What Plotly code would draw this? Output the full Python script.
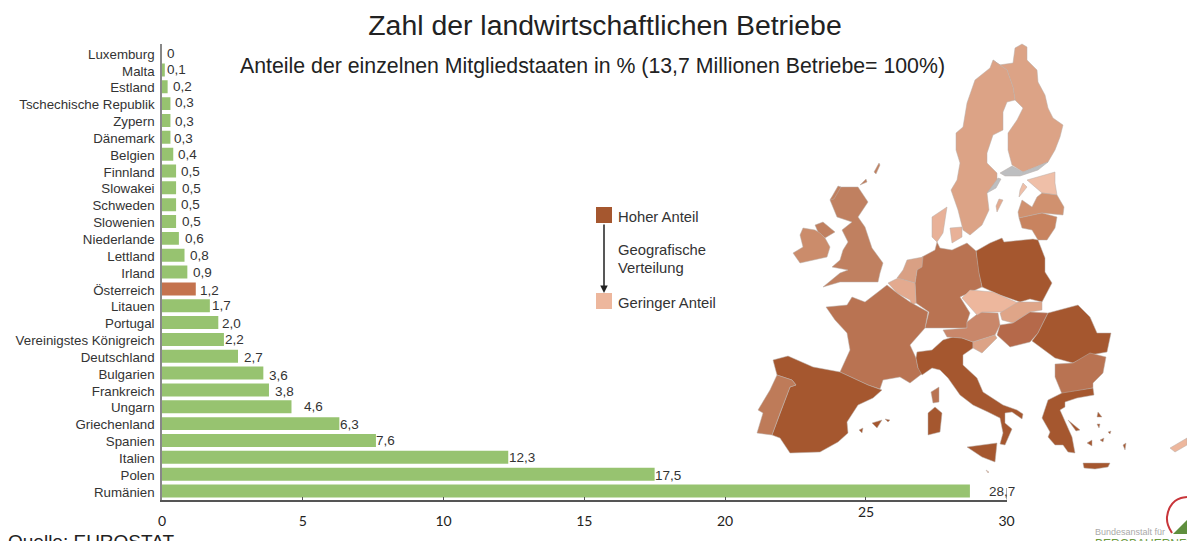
import plotly.graph_objects as go

categories = ["Luxemburg", "Malta", "Estland", "Tschechische Republik", "Zypern", "Dänemark", "Belgien",
              "Finnland", "Slowakei", "Schweden", "Slowenien", "Niederlande", "Lettland", "Irland",
              "Österreich", "Litauen", "Portugal", "Vereinigstes Königreich", "Deutschland", "Bulgarien",
              "Frankreich", "Ungarn", "Griechenland", "Spanien", "Italien", "Polen", "Rumänien"]
values = [0, 0.1, 0.2, 0.3, 0.3, 0.3, 0.4, 0.5, 0.5, 0.5, 0.5, 0.6, 0.8, 0.9, 1.2, 1.7, 2.0, 2.2, 2.7,
          3.6, 3.8, 4.6, 6.3, 7.6, 12.3, 17.5, 28.7]
value_labels = ["0", "0,1", "0,2", "0,3", "0,3", "0,3", "0,4", "0,5", "0,5", "0,5", "0,5", "0,6", "0,8", "0,9",
                "1,2", "1,7", "2,0", "2,2", "2,7", "3,6", "3,8", "4,6", "6,3", "7,6", "12,3", "17,5", "28,7"]
label_xshift = [3, 0, 3, 3, 3, 2, 3, 3, 4, 3, 4, 4, 3.5, 3.7, 2, 0, 2, -1, 4, 4, 4, 10.5, -1.5, -1.5, -1, -1.5, 17]
label_yshift = [0, 0, 0, 1, -1, -1, 0, -1, -1, 0, 0, 0, 0, 0, -2, 0, -1, 0, -1, -2, -2, 0, -1, 0, 0, -1, -1]
tick_values = [0, 5, 10, 15, 20, 25, 30]
tick_labels = ["0", "5", "10", "15", "20", "", "30"]

GREEN = "#97C370"
HIGHLIGHT = "#C4734E"
bar_colors = [HIGHLIGHT if c == "Österreich" else GREEN for c in categories]

FINLAND = [(993,60),(999,65),(1013,63),(1015,48),(1022,44),(1027,47),(1027,60),(1037,70),(1038,82),(1045,95),
           (1048,108),(1053,118),(1063,125),(1060,137),(1055,150),(1048,162),(1033,168),(1023,172),(1012,165),
           (1008,150),(1008,133),(1017,120),(1023,108),(1015,100),(1013,87),(1007,70)]
SWEDEN = [(993,60),(1007,70),(1013,87),(1015,100),(1007,102),(1003,112),(1003,130),(993,135),(987,153),(987,163),
          (997,173),(997,182),(987,193),(989,210),(982,225),(970,235),(963,230),(958,210),(951,190),(957,180),
          (960,163),(956,150),(956,133),(963,127),(967,103),(975,80),(990,68)]
GOTLAND = [(997,212),(1003,200),(999,199),(996,206)]
GREY_A = [(1000,173),(1012,166),(1023,172),(1048,162),(1038,170),(1020,176),(1005,176)]
GREY_B = [(987,193),(998,178),(1001,179),(996,188)]
ESTONIA = [(1027,180),(1055,172),(1055,183),(1057,195),(1042,193),(1035,187)]
SAAREMAA = [(1019,197),(1027,187),(1023,183),(1020,190)]
LATVIA = [(1018,212),(1022,200),(1032,207),(1037,197),(1042,193),(1057,195),(1064,207),(1063,215),(1042,213),(1019,218)]
LITHUANIA = [(1019,218),(1042,213),(1057,217),(1055,228),(1047,240),(1038,240),(1032,230),(1022,228)]
POLAND = [(976,251),(990,243),(1002,238),(1004,242),(1033,239),(1038,240),(1045,258),(1045,272),(1052,283),(1042,302),
          (1030,299),(1020,302),(1000,295),(993,292),(982,287),(978,270)]
GERMANY = [(937,242),(940,248),(952,250),(967,243),(976,251),(979,273),(982,287),(960,297),(970,313),(967,322),(967,328),
           (940,328),(925,328),(929,312),(916,303),(915,283),(917,270),(922,257),(935,250)]
NETHERLANDS = [(897,278),(903,270),(907,260),(923,257),(922,267),(917,270),(915,283),(908,281),(903,279)]
BELGIUM = [(888,283),(898,278),(915,283),(916,303),(912,305),(910,300),(897,293)]
FRANCE = [(887,285),(897,293),(910,302),(928,312),(925,328),(910,345),(916,358),(918,368),(923,373),(910,383),(900,377),(883,380),
          (880,389),(868,385),(840,372),(850,350),(847,333),(835,320),(826,307),(847,305),(852,297),(865,302),(878,292)]
CORSICA = [(931,392),(939,387),(939,402),(933,403)]
SPAIN = [(773,360),(788,356),(813,367),(840,372),(868,385),(882,390),(873,398),(858,405),(847,422),(848,433),(838,442),
         (820,452),(790,453),(780,438),(772,435),(780,413),(790,387),(796,385),(792,380),(777,375)]
PORTUGAL = [(777,375),(792,380),(796,385),(790,387),(780,413),(772,435),(757,433),(763,413),(758,410),(770,390)]
MALLORCA = [(872,423),(882,420),(877,428)]
IBIZA = [(859,430),(863,428),(862,433)]
MENORCA = [(885,419),(890,420),(888,422)]
ITALY = [(916,358),(917,352),(932,350),(943,340),(953,337),(962,338),(973,342),(973,348),(963,355),(963,365),(977,378),(983,392),
         (1003,405),(1017,410),(1023,414),(1022,419),(1012,412),(1005,413),(1005,423),(1012,429),(1005,445),(1000,444),(1003,433),
         (1000,418),(988,412),(973,405),(960,395),(948,378),(940,370),(932,368),(922,375),(918,368)]
SARDINIA = [(928,413),(935,407),(942,413),(940,432),(928,435)]
SICILY = [(967,447),(997,443),(995,462),(982,457)]
AUSTRIA = [(943,330),(967,328),(967,322),(980,312),(998,313),(1000,325),(995,335),(973,342),(962,338),(947,337)]
CZECHIA = [(962,298),(970,290),(993,292),(1018,303),(1003,312),(982,312),(977,315)]
SLOVAKIA = [(1000,313),(1018,302),(1042,302),(1042,310),(1030,312),(1013,323),(1002,320)]
HUNGARY = [(1000,325),(1013,323),(1030,312),(1048,313),(1038,333),(1030,342),(1010,347),(997,335)]
SLOVENIA = [(973,342),(995,335),(997,338),(982,353),(973,348)]
ROMANIA = [(1048,313),(1078,305),(1090,317),(1097,333),(1111,333),(1107,352),(1090,355),(1073,363),(1055,358),(1040,347),
           (1032,341),(1038,333)]
BULGARIA = [(1055,364),(1073,363),(1090,353),(1106,357),(1103,373),(1093,383),(1093,388),(1062,394),(1055,377)]
GREECE = [(1062,393),(1093,388),(1094,395),(1077,398),(1065,402),(1065,407),(1060,410),(1068,427),(1072,437),(1075,453),(1068,452),
          (1063,445),(1055,445),(1048,437),(1050,432),(1042,418),(1048,400)]
CRETE = [(1083,463),(1110,463),(1108,467),(1095,469),(1084,468)]
LESBOS = [(1098,412),(1102,417),(1097,417)]
RHODES = [(1123,445),(1126,443),(1125,450)]
CHIOS = [(1097,424),(1100,424),(1099,428)]
NAXOS = [(1087,443),(1092,440),(1092,446)]
EVIA = [(1068,420),(1080,430),(1076,431)]
CYCLADES = [(1100,440),(1104,438),(1103,442)]
KOS = [(1108,432),(1111,431),(1110,434)]
CYPRUS = [(1170,448),(1187,438),(1187,445),(1175,452)]
MALTA = [(986,470),(989,472),(988,473)]
GREAT_BRITAIN = [(858,187),(868,202),(858,217),(865,227),(872,248),(883,263),(880,273),(878,282),(850,282),(840,282),(823,287),
                 (840,273),(848,270),(832,267),(840,260),(843,250),(848,242),(842,230),(852,222),(837,217),(830,200),(840,187)]
HEBRIDES = [(830,200),(838,186),(841,187),(834,199)]
ORKNEY = [(860,185),(866,179),(867,182)]
SHETLAND = [(874,172),(879,163),(880,165),(876,174)]
N_IRELAND = [(815,225),(823,222),(835,232),(825,238),(818,232)]
IRELAND = [(803,228),(815,230),(820,233),(825,238),(830,247),(827,257),(800,263),(793,253),(803,247),(800,235)]
JUTLAND = [(932,217),(947,207),(943,233),(937,242),(932,237)]
ZEALAND = [(950,228),(962,227),(962,237),(952,243)]

map_regions = [
    (FINLAND, "#DCA386"), (SWEDEN, "#DCA386"), (GOTLAND, "#E3AA8F"), (GREY_A, "#BDBEC0"), (GREY_B, "#BDBEC0"),
    (ESTONIA, "#EFBFA8"), (SAAREMAA, "#EFBFA8"), (LATVIA, "#D0916F"), (LITHUANIA, "#C8835F"),
    (POLAND, "#A5572F"), (GERMANY, "#B97352"), (NETHERLANDS, "#D9A084"), (BELGIUM, "#E3AA8F"),
    (FRANCE, "#B97352"), (CORSICA, "#B97352"), (SPAIN, "#A5572F"), (PORTUGAL, "#BE7B59"),
    (MALLORCA, "#A5572F"), (IBIZA, "#A5572F"), (MENORCA, "#A5572F"), (ITALY, "#A5572F"), (SARDINIA, "#A5572F"),
    (SICILY, "#A5572F"), (AUSTRIA, "#C9876A"), (CZECHIA, "#EDB79D"), (SLOVAKIA, "#DFA588"), (HUNGARY, "#B5694A"),
    (SLOVENIA, "#DCA386"), (ROMANIA, "#A5572F"), (BULGARIA, "#B97352"), (GREECE, "#A5572F"), (CRETE, "#A5572F"),
    (LESBOS, "#A5572F"), (RHODES, "#A5572F"), (CHIOS, "#A5572F"), (NAXOS, "#A5572F"), (EVIA, "#A5572F"),
    (CYCLADES, "#A5572F"), (KOS, "#A5572F"),
    (CYPRUS, "#EDB79D"), (MALTA, "#EDB79D"), (GREAT_BRITAIN, "#C08060"), (HEBRIDES, "#C08060"), (ORKNEY, "#C08060"),
    (SHETLAND, "#C08060"), (N_IRELAND, "#C08060"), (IRELAND, "#CB8C6B"), (JUTLAND, "#E8B198"), (ZEALAND, "#E8B198"),
]

LOGO_ARC = [(1172,533),(1168,525),(1167,517),(1170,507),(1175,501),(1181,498),(1187,497)]
LOGO_HILL = [(1173,534),(1187,520),(1187,534)]

W, H = 1187, 541
fig = go.Figure()
fig.add_trace(go.Bar(x=values, y=categories, orientation="h", marker=dict(color=bar_colors, line_width=0),
                     hoverinfo="skip", showlegend=False))

for pts, col in map_regions:
    fig.add_trace(go.Scatter(x=[p[0] for p in pts] + [pts[0][0]], y=[p[1] for p in pts] + [pts[0][1]],
                             xaxis="x2", yaxis="y2", mode="lines", fill="toself", fillcolor=col,
                             line=dict(color="#B8AFA8", width=0.5),
                             hoverinfo="skip", showlegend=False))
fig.add_trace(go.Scatter(x=[p[0] for p in LOGO_ARC], y=[p[1] for p in LOGO_ARC], xaxis="x2", yaxis="y2", mode="lines",
                         line=dict(color="#C8353A", width=2, shape="spline"), hoverinfo="skip", showlegend=False))
fig.add_trace(go.Scatter(x=[p[0] for p in LOGO_HILL], y=[p[1] for p in LOGO_HILL], xaxis="x2", yaxis="y2", mode="lines",
                         fill="toself", fillcolor="#5F8F3E", line=dict(color="#5F8F3E", width=0),
                         hoverinfo="skip", showlegend=False))

SANS = "Liberation Sans"
annotations = []
for c, v, t, dx, dy in zip(categories, values, value_labels, label_xshift, label_yshift):
    annotations.append(dict(x=v, y=c, xref="x", yref="y", text=t, showarrow=False, xanchor="left", yanchor="middle",
                            xshift=dx, yshift=dy, font=dict(family=SANS, size=13.5, color="#333333")))


def txt(x, y, s, size, color="#333333", anchor="left", family=SANS, vanchor="middle"):
    annotations.append(dict(x=x, y=y, xref="x2", yref="y2", text=s, showarrow=False, xanchor=anchor, yanchor=vanchor,
                            font=dict(family=family, size=size, color=color)))


txt(592.5, 66, "Anteile der einzelnen Mitgliedstaaten in % (13,7 Millionen Betriebe= 100%)", 21.3, "#222222", "center")
txt(616, 217, "Hoher Anteil", 14.8)
txt(616, 250, "Geografische", 14.8)
txt(616, 268, "Verteilung", 14.8)
txt(616, 303, "Geringer Anteil", 14.8)
txt(6, 529, "Quelle: EUROSTAT", 19, "#222222", vanchor="top")
txt(1093, 532, "Bundesanstalt für", 9, "#AAAAAA")
txt(1093, 535, "BERGBAUERNFRAGEN", 12, "#6A9A3C", vanchor="top")
txt(865.5, 511, "25", 14, "#222222", "center", "Lato")
annotations.append(dict(x=604, y=293, ax=604, ay=223, xref="x2", yref="y2", axref="x2", ayref="y2", text="",
                        showarrow=True, arrowhead=2, arrowsize=1, arrowwidth=1.5, arrowcolor="#222222"))

shapes = [
    dict(type="rect", xref="x2", yref="y2", x0=596, x1=612, y0=207, y1=223, fillcolor="#A5572F", line_width=0),
    dict(type="rect", xref="x2", yref="y2", x0=596, x1=612, y0=293, y1=309, fillcolor="#EDB79D", line_width=0),
    dict(type="line", xref="x", yref="paper", x0=30, x1=30, y0=41.5 / H, y1=53 / H, line=dict(color="#555555", width=1)),
]

fig.update_layout(
    width=W, height=H, autosize=False, margin=dict(l=0, r=0, t=0, b=0, autoexpand=False),
    paper_bgcolor="white", plot_bgcolor="rgba(0,0,0,0)", bargap=0.23,
    title=dict(text="Zahl der landwirtschaftlichen Betriebe", x=605 / W, y=1 - 25 / H, xanchor="center", yanchor="middle",
               font=dict(family=SANS, size=28.4, color="#222222")),
    xaxis=dict(domain=[162 / W, 1006.5 / W], range=[0, 30], tickvals=tick_values, ticktext=tick_labels, automargin=False,
               showgrid=False, zeroline=False, showline=True, linecolor="#555555", linewidth=1.5, ticks="inside",
               ticklen=3, tickcolor="#555555", ticklabelstandoff=8, tickfont=dict(family="Lato", size=14, color="#222222")),
    yaxis=dict(domain=[1 - 499.5 / H, 1 - 43.6 / H], autorange="reversed", categoryorder="array", categoryarray=categories,
               automargin=False, showgrid=False, zeroline=False, showline=True, linecolor="#888888", linewidth=1.5, ticks="",
               ticklabelstandoff=3, ticklabelshift=-1, tickfont=dict(family=SANS, size=13.3, color="#333333")),
    xaxis2=dict(domain=[0, 1], range=[0, W], visible=False, anchor="y2", fixedrange=True, automargin=False),
    yaxis2=dict(domain=[0, 1], range=[H, 0], visible=False, anchor="x2", fixedrange=True, automargin=False),
    annotations=annotations, shapes=shapes,
)

fig.write_html("out.html", config={"displayModeBar": False}, post_script="document.body.style.margin='0';document.body.style.overflow='hidden';")
